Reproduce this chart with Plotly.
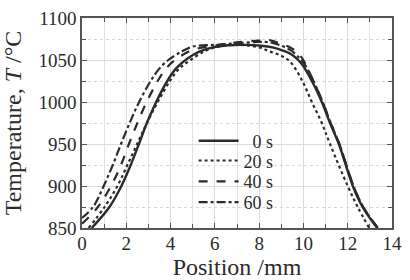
import plotly.graph_objects as go

# 0 s (solid)
x0 = [0.44, 1.24, 1.78, 2.2, 2.57, 2.93, 3.35, 3.85, 4.25, 4.78, 5.3, 5.9, 6.6, 7.4, 8.1, 8.6, 9.1, 9.5, 9.9, 10.38, 10.83, 11.2, 11.6, 12.23, 12.67, 13.33]
t0 = [850, 875, 900, 925, 950, 975, 1000, 1025, 1040, 1052, 1060, 1065, 1067.5, 1068, 1067, 1065, 1061, 1056, 1046, 1025, 1000, 975, 950, 900, 875, 850]
# 20 s (dotted)
x20 = [0.3, 1.02, 1.6, 2.05, 2.49, 2.93, 3.42, 3.97, 4.4, 4.9, 5.5, 6.0, 7.0, 8.0, 8.5, 9.0, 9.4, 9.95, 10.38, 10.83, 11.2, 12.0, 12.45, 12.97]
t20 = [850, 875, 900, 925, 950, 975, 1000, 1025, 1040, 1050, 1060, 1065, 1068, 1065, 1060, 1055, 1048, 1025, 1000, 975, 950, 900, 875, 850]
# 40 s (dashed)
x40 = [0.0, 0.72, 1.31, 1.76, 2.12, 2.5, 2.92, 3.42, 3.8, 4.2, 5.0, 6.0, 7.0, 8.0, 8.5, 9.0, 9.4, 9.8, 10.1, 10.45, 10.87, 11.23, 11.62, 12.26, 12.7, 13.37]
t40 = [855, 875, 900, 925, 950, 975, 1000, 1025, 1040, 1050, 1062, 1067, 1071, 1073, 1073.5, 1069, 1065, 1057, 1045, 1025, 1000, 975, 950, 900, 875, 850]
# 60 s (dash-dot)
x60 = [0.0, 0.5, 0.98, 1.39, 1.76, 2.15, 2.58, 3.1, 3.5, 3.9, 4.5, 5.0, 6.0, 7.0, 8.0, 8.5, 9.0, 9.4, 9.8, 10.1, 10.45, 10.87, 11.23, 11.62, 12.26, 12.7, 13.35]
t60 = [862, 875, 900, 925, 950, 975, 1000, 1025, 1040, 1050, 1060, 1066, 1068, 1070, 1071.5, 1071, 1067, 1062, 1053, 1043, 1025, 1000, 975, 950, 900, 875, 850]

names = ["\u20070 s", "20 s", "40 s", "60 s"]
xs = [x0, x20, x40, x60]
ts = [t0, t20, t40, t60]
dashes = ["solid", "dot", "dash", "dashdot"]
widths = [2.4, 2.2, 2.2, 2.2]
legend_ids = ["legend", "legend2", "legend3", "legend4"]

x_ticks = [0, 2, 4, 6, 8, 10, 12, 14]
y_ticks = [850, 900, 950, 1000, 1050, 1100]

INK = "#2b2b2b"
FONT = "Liberation Serif"

fig = go.Figure()
for x, t, n, d, w, lg in zip(xs, ts, names, dashes, widths, legend_ids):
    fig.add_trace(go.Scatter(x=x, y=t, name=n, mode="lines", legend=lg,
                             line=dict(color=INK, width=w, dash=d, shape="spline", smoothing=1.0)))

axis_common = dict(
    showline=True, linecolor="#555", linewidth=1.5, mirror="allticks",
    ticks="inside", ticklen=5, tickwidth=1.3, tickcolor="#555",
    tickfont=dict(family=FONT, size=19, color=INK),
    showgrid=True, gridcolor="#dcdcdc", gridwidth=1, zeroline=False,
    ticklabeloverflow="allow",
)

fig.update_xaxes(range=[0, 14], tickmode="array", tickvals=x_ticks,
                 ticktext=[str(v) for v in x_ticks], ticklabelstandoff=-3,
                 minor=dict(dtick=1, tick0=0, ticks="inside", ticklen=4, tickcolor="#555",
                            showgrid=True, gridcolor="#e2e2e2", gridwidth=1),
                 title=dict(text="Position /mm", font=dict(family=FONT, size=24, color=INK), standoff=2),
                 **axis_common)
fig.update_yaxes(range=[850, 1100], tickmode="array", tickvals=y_ticks,
                 ticktext=[str(v) for v in y_ticks],
                 minor=dict(dtick=25, tick0=850, ticks="inside", ticklen=4, tickcolor="#555",
                            showgrid=True, gridcolor="#d8d8d8", griddash="dot", gridwidth=1),
                 title=dict(text="Temperature, <i>T</i> /°C", font=dict(family=FONT, size=24, color=INK), standoff=10),
                 **axis_common)

leg_style = dict(x=0.36, xanchor="left", yanchor="middle", bgcolor="rgba(0,0,0,0)", borderwidth=0,
                 font=dict(family=FONT, size=18, color=INK), itemwidth=40)
leg_y = [0.414, 0.320, 0.221, 0.122]

fig.update_layout(
    width=410, height=280,
    margin=dict(l=82, r=12, t=8, b=51),
    paper_bgcolor="white", plot_bgcolor="white",
    showlegend=True,
    legend=dict(y=leg_y[0], **leg_style),
    legend2=dict(y=leg_y[1], **leg_style),
    legend3=dict(y=leg_y[2], **leg_style),
    legend4=dict(y=leg_y[3], **leg_style),
)

fig.write_html("out.html")
